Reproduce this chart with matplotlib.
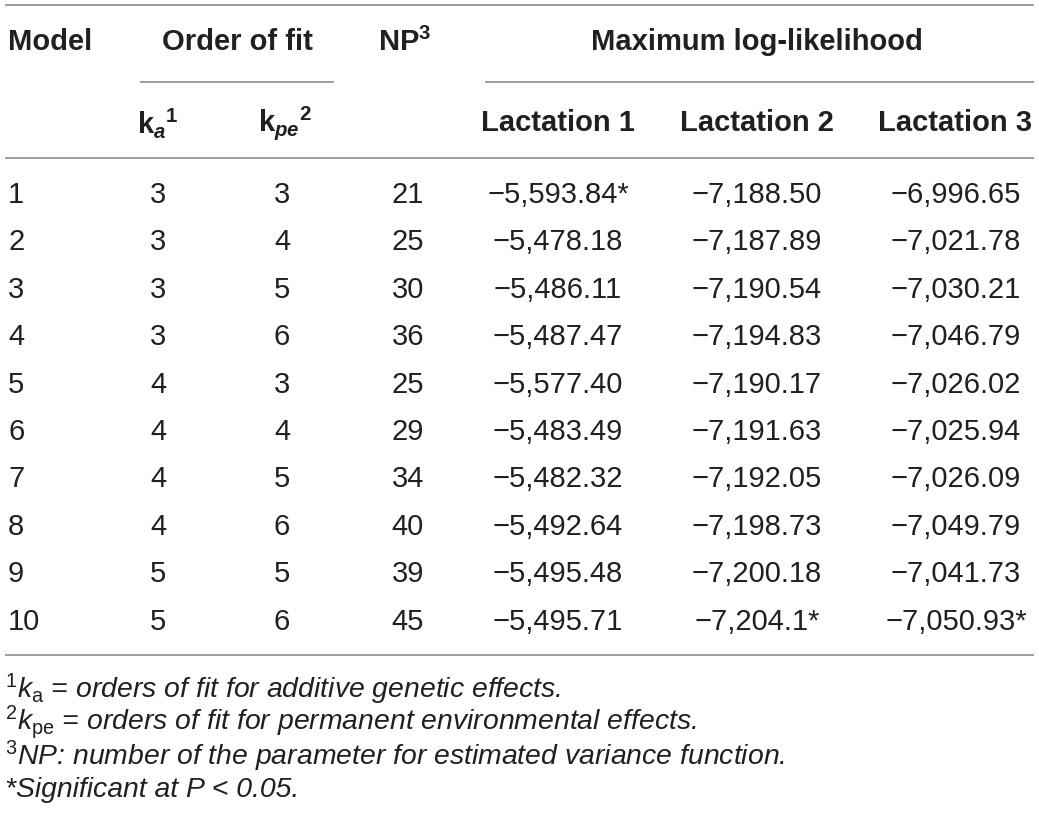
import matplotlib
matplotlib.use("Agg")
import matplotlib.pyplot as plt

plt.rcParams['font.family'] = ['Liberation Sans', 'DejaVu Sans']
plt.rcParams['mathtext.fontset'] = 'custom'
plt.rcParams['mathtext.rm'] = 'Liberation Sans'
plt.rcParams['mathtext.it'] = 'Liberation Sans:italic'
plt.rcParams['mathtext.bf'] = 'Liberation Sans:bold'
plt.rcParams['mathtext.bfit'] = 'Liberation Sans:bold:italic'

# ---- data ----
models = ["1", "2", "3", "4", "5", "6", "7", "8", "9", "10"]
k_a = [3, 3, 3, 3, 4, 4, 4, 4, 5, 5]
k_pe = [3, 4, 5, 6, 3, 4, 5, 6, 5, 6]
n_params = [21, 25, 30, 36, 25, 29, 34, 40, 39, 45]
lactation1 = ["−5,593.84*", "−5,478.18", "−5,486.11", "−5,487.47", "−5,577.40",
              "−5,483.49", "−5,482.32", "−5,492.64", "−5,495.48", "−5,495.71"]
lactation2 = ["−7,188.50", "−7,187.89", "−7,190.54", "−7,194.83", "−7,190.17",
              "−7,191.63", "−7,192.05", "−7,198.73", "−7,200.18", "−7,204.1*"]
lactation3 = ["−6,996.65", "−7,021.78", "−7,030.21", "−7,046.79", "−7,026.02",
              "−7,025.94", "−7,026.09", "−7,049.79", "−7,041.73", "−7,050.93*"]
footnotes = [
    r"${}^{1}k_{\mathrm{a}}$ = orders of fit for additive genetic effects.",
    r"${}^{2}k_{\mathrm{pe}}$ = orders of fit for permanent environmental effects.",
    r"${}^{3}$NP: number of the parameter for estimated variance function.",
    "*Significant at P < 0.05.",
]

W, H = 1039, 822
fig = plt.figure(figsize=(W / 100, H / 100), dpi=100)
ax = fig.add_axes([0, 0, 1, 1])
ax.set_xlim(0, W)
ax.set_ylim(H, 0)
ax.axis("off")

txt = "#231f20"
line_c = "#8c8c8c"
fs = 21
hfs = 21

def hline(y, x0, x1):
    ax.plot([x0, x1], [y, y], color=line_c, lw=1.2, solid_capstyle="butt")

# rules
hline(5, 5, 1034)
hline(82, 140, 334)
hline(82, 485, 1034)
hline(158, 5, 1034)
hline(655, 5, 1034)

# header
yh1, yh2 = 42, 123
ax.text(8, yh1, "Model", fontsize=hfs, weight="bold", color=txt, ha="left", va="center")
ax.text(237, yh1, "Order of fit", fontsize=hfs, weight="bold", color=txt, ha="center", va="center")
ax.text(405, yh1, r"$\mathbf{NP}^{\mathbf{3}}$", fontsize=hfs, color=txt, ha="center", va="center")
ax.text(757, yh1, "Maximum log-likelihood", fontsize=hfs, weight="bold", color=txt, ha="center", va="center")
ax.text(158, yh2, r"$\mathbf{k}_{\mathbfit{a}}{}^{\mathbf{1}}$", fontsize=hfs, color=txt, ha="center", va="center")
ax.text(285, yh2, r"$\mathbf{k}_{\mathbfit{pe}}{}^{\mathbf{2}}$", fontsize=hfs, color=txt, ha="center", va="center")
for x, lab in zip([558, 757, 955], ["Lactation 1", "Lactation 2", "Lactation 3"]):
    ax.text(x, yh2, lab, fontsize=hfs, weight="bold", color=txt, ha="center", va="center")

# body
y0, dy = 195, 47.4
for i in range(len(models)):
    y = y0 + i * dy
    ax.text(8, y, models[i], fontsize=fs, color=txt, ha="left", va="center")
    ax.text(158, y, str(k_a[i]), fontsize=fs, color=txt, ha="center", va="center")
    ax.text(282, y, str(k_pe[i]), fontsize=fs, color=txt, ha="center", va="center")
    ax.text(408, y, str(n_params[i]), fontsize=fs, color=txt, ha="center", va="center")
    ax.text(558, y, lactation1[i], fontsize=fs, color=txt, ha="center", va="center")
    ax.text(757, y, lactation2[i], fontsize=fs, color=txt, ha="center", va="center")
    ax.text(956, y, lactation3[i], fontsize=fs, color=txt, ha="center", va="center")

# footnotes
for j, fn in enumerate(footnotes):
    ax.text(5, 689 + j * 33.5, fn, fontsize=20.4, style="italic", color=txt, ha="left", va="center")

fig.savefig("out.png", dpi=100)
